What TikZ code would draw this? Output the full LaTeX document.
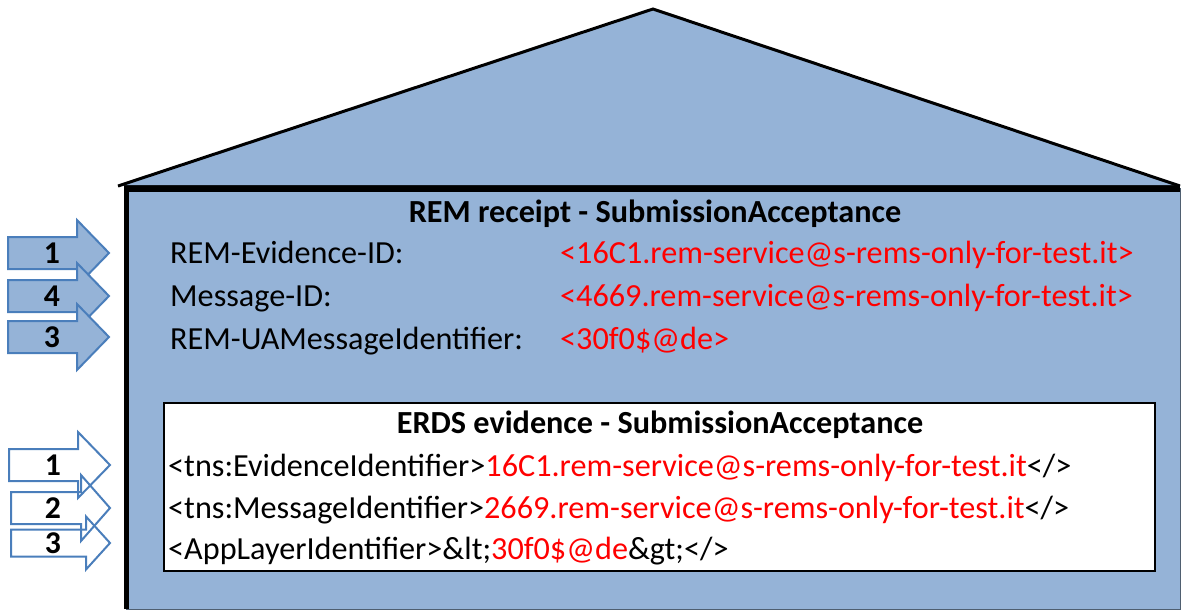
\documentclass[tikz,border=0pt]{standalone}
\usepackage{fontspec}
\setmainfont{Carlito}
\usetikzlibrary{positioning}
\definecolor{houseblue}{HTML}{95B3D7}
\definecolor{arrowline}{HTML}{4A7EBB}
\definecolor{wallline}{HTML}{4F5F70}
\definecolor{idred}{HTML}{FF0000}

\begin{document}
\begin{tikzpicture}[x=1pt, y=-1pt,
    txt/.style={anchor=base west, inner sep=0pt, font=\fontsize{32.2}{38}\selectfont},
    title/.style={anchor=base, inner sep=0pt, font=\fontsize{32.2}{38}\selectfont\bfseries},
    numlabel/.style={inner sep=0pt, font=\fontsize{31.7}{38}\selectfont\bfseries},
    inarrow/.style={draw=arrowline, line width=2pt, line join=miter}]
        \useasboundingbox (0,0) rectangle (1182,611);

        % house: walls and roof
        \fill[houseblue] (126,188) rectangle (1180,609);
        \draw[wallline, thick] (1180,188) -- (1180,609) -- (126,609);
        \draw[line width=5pt] (126,609) -- (126,186);
        \draw[line width=7pt] (123.5,188) -- (1180,188);
        \fill[houseblue] (118,185) -- (653,9) -- (1180,185) -- cycle;
        \draw[line width=3pt, line join=miter] (118,186) -- (653,9) -- (1180,186);

        % REM receipt
        \node[title] (remtitle) at (655,222) {REM receipt - SubmissionAcceptance};
        \node[txt] (evid) at (170,263) {REM-Evidence-ID:};
        \node[txt] (msgid) at (170,306) {Message-ID:};
        \node[txt] (uaid) at (170,349) {REM-UAMessageIdentifier:};
        \node[txt, idred] (evidval) at (560,263) {<16C1.rem-service@s-rems-only-for-test.it>};
        \node[txt, idred] (msgidval) at (560,306) {<4669.rem-service@s-rems-only-for-test.it>};
        \node[txt, idred] (uaidval) at (560,349) {<30f0\$@de>};

        % ERDS evidence
        \node[draw, line width=2pt, fill=white, anchor=north west, minimum width=991, minimum height=168] (erds) at (163,402) {};
        \node[title] (erdstitle) at (660,433) {ERDS evidence - SubmissionAcceptance};
        \node[txt] (tnsevid) at (168,476) {<tns:EvidenceIdentifier>\textcolor{idred}{16C1.rem-service@s-rems-only-for-test.it}</>};
        \node[txt] (tnsmsg) at (168,518) {<tns:MessageIdentifier>\textcolor{idred}{2669.rem-service@s-rems-only-for-test.it}</>};
        \node[txt] (applayer) at (168,559) {<AppLayerIdentifier>\&lt;\textcolor{idred}{30f0\$@de}\&gt;</>};

        % numbered arrows into the receipt
        \foreach \ty/\lab [count=\i] in {253/1, 296/4, 337/3} {
            \filldraw[inarrow, fill=houseblue] (8,\ty-16) -- (77,\ty-16) -- (77,\ty-33) -- (109,\ty)
                -- (77,\ty+33) -- (77,\ty+16) -- (8,\ty+16) -- cycle;
            \node[numlabel] (remnum\i) at (52,\ty) {\lab};
        }

        % numbered arrows into the evidence
        \foreach \lx/\bx/\ty/\bh/\hh/\lab [count=\i] in {9/78/465/16/33/1, 11/81/508/16/33/2, 11/86/543/13.5/26.5/3} {
            \draw[inarrow] (\lx,\ty-\bh) -- (\bx,\ty-\bh) -- (\bx,\ty-\hh) -- (110,\ty)
                -- (\bx,\ty+\hh) -- (\bx,\ty+\bh) -- (\lx,\ty+\bh) -- cycle;
            \node[numlabel] (erdsnum\i) at (53,\ty) {\lab};
        }
    \end{tikzpicture}
\end{document}
